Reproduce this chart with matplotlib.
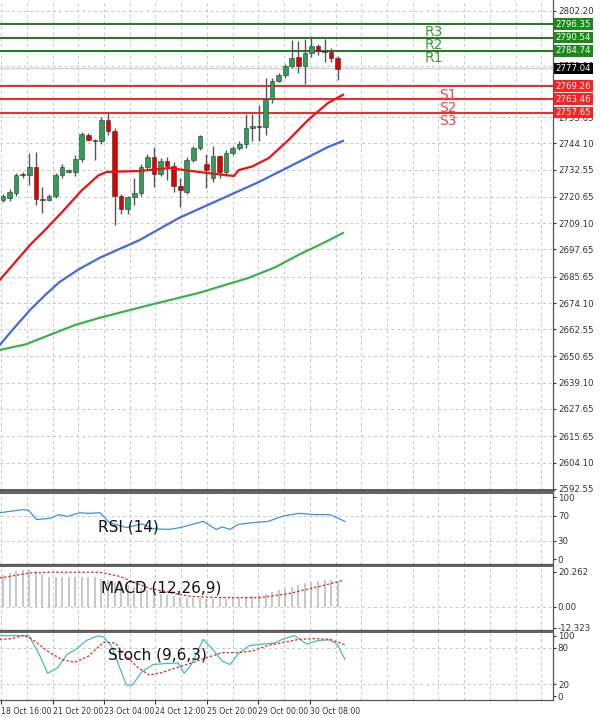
import matplotlib
matplotlib.use("Agg")
import matplotlib.pyplot as plt
import numpy as np

# ---------------- data ----------------
opens  = [2719.3,2720.1,2722.4,2730.5,2730.3,2733.8,2719.5,2719.3,2721.0,2730.3,2731.6,2731.6,2737.3,2747.8,2745.6,2745.2,
          2754.4,2749.5,2721.0,2715.3,2720.6,2722.4,2733.8,2738.2,2730.7,2736.4,2734.2,2725.4,2722.8,2736.9,2742.1,2735.1,
          2728.9,2738.6,2731.6,2739.9,2742.1,2743.9,2750.9,2751.8,2751.3,2763.6,2771.5,2774.1,2778.1,2782.0,2778.1,2783.8,
          2786.8,2784.2,2784.2,2781.6]
closes = [2721.0,2722.8,2730.3,2730.1,2733.8,2719.7,2719.3,2721.0,2730.3,2733.8,2732.4,2737.3,2748.2,2745.6,2745.2,2754.4,
          2749.5,2721.0,2715.3,2720.6,2722.4,2733.8,2738.2,2730.7,2736.4,2734.2,2725.4,2723.7,2736.9,2742.1,2747.4,2732.4,
          2738.6,2731.6,2739.9,2742.1,2743.9,2750.9,2751.8,2751.3,2763.6,2771.5,2774.1,2778.1,2781.6,2778.1,2783.8,2786.8,
          2784.7,2784.0,2781.6,2776.8]
highs  = [2722.0,2724.0,2731.0,2731.5,2740.0,2740.3,2725.0,2722.0,2731.0,2735.0,2733.0,2739.0,2749.0,2748.5,2746.0,2755.5,
          2758.0,2751.0,2722.0,2721.0,2729.0,2735.0,2739.5,2742.5,2737.5,2738.0,2736.0,2728.9,2738.0,2743.0,2748.0,2739.5,
          2743.0,2739.0,2741.0,2743.0,2745.0,2757.0,2757.0,2761.0,2773.0,2773.0,2775.0,2779.0,2789.6,2789.0,2790.0,2791.0,
          2787.5,2790.0,2786.0,2782.6]
lows   = [2718.5,2719.0,2721.0,2729.0,2726.0,2717.0,2713.6,2718.7,2720.0,2729.0,2731.0,2729.6,2736.0,2745.0,2737.0,2744.0,
          2748.0,2708.4,2713.0,2713.0,2717.0,2721.0,2733.0,2725.0,2730.0,2728.0,2723.0,2716.0,2722.0,2736.0,2741.0,2724.7,
          2727.0,2729.0,2730.0,2739.0,2741.0,2742.0,2745.0,2745.0,2748.0,2762.0,2771.0,2773.0,2777.0,2775.0,2770.0,2782.0,
          2783.0,2780.0,2780.0,2772.0]

ma_red_x  = [-0.5,2.0,4.1,6.4,9.0,12.0,14.5,15.8,20.8,25.3,29.8,33.0,35.2,35.9,38.0,40.5,43.5,46.5,49.5,51.8]
ma_red_y  = [2684.2,2692.5,2699.5,2706.1,2714.0,2723.5,2730.0,2731.6,2732.0,2733.3,2731.6,2730.5,2729.8,2732.4,2734.0,2737.7,2745.6,2754.4,2761.8,2765.4]
ma_blue_x = [-0.5,1.5,4.1,6.5,8.6,11.5,14.7,20.8,26.8,32.9,39.0,45.0,49.5,51.8]
ma_blue_y = [2655.7,2662.5,2671.0,2677.8,2683.3,2688.8,2693.9,2701.7,2711.4,2719.3,2727.2,2735.9,2742.5,2745.2]
ma_grn_x  = [-0.5,3.5,7.1,11.0,14.7,22.3,29.8,37.4,41.5,45.0,48.5,51.8]
ma_grn_y  = [2653.5,2656.0,2660.1,2664.5,2667.6,2673.2,2678.5,2685.1,2689.8,2695.2,2700.0,2704.8]

levels_r = [("R3", 2796.35), ("R2", 2790.54), ("R1", 2784.74)]
levels_s = [("S1", 2769.26), ("S2", 2763.46), ("S3", 2757.65)]
last_price = 2777.04
price_ticks = [2802.20, 2778.10, 2755.65, 2744.10, 2732.55, 2720.65, 2709.10, 2697.65, 2685.65,
               2674.10, 2662.55, 2650.65, 2639.10, 2627.65, 2615.65, 2604.10, 2592.55]

rsi_x = [-0.5,3.0,3.9,5.1,7.2,8.5,9.8,11.7,13.0,14.8,16.2,18.8,21.2,22.9,25.3,27.0,30.5,32.5,33.4,34.6,35.8,38.1,40.4,42.8,45.1,47.4,49.8,52.1]
rsi_y = [75,80,79,64,66,72,69,75,74,75,59,51,57,49,48,51,61,48,52,48,56,59,61,70,74,72,72,61]

macd_hist = [18.5,19.5,20.4,21.4,21.0,20.4,19.0,17.1,17.1,17.1,17.1,17.1,17.1,17.1,17.1,16.0,15.5,14.5,13.5,12.5,11.5,
             10.5,9.5,8.5,7.5,6.5,6.0,5.5,5.2,5.0,4.8,4.6,4.6,4.6,4.6,4.8,5.0,5.5,6.0,6.5,7.5,8.5,9.5,10.5,11.5,12.5,13.5,
             14.5,15.0,15.5,15.5,14.5]
macd_sig_x = [-0.5,4.1,7.1,14.7,17.8,22.3,28.4,32.9,39.0,43.5,48.0,51.8]
macd_sig_y = [16.5,19.5,19.9,19.9,17.5,10.5,6.0,5.2,5.2,7.5,11.5,15.1]

stk_x = [-0.5,1.3,3.0,3.9,5.4,6.8,8.3,9.8,11.2,12.7,14.4,15.3,16.5,17.6,18.8,19.7,21.2,22.9,24.7,26.7,27.6,28.7,30.5,
         31.9,33.4,34.6,35.8,37.5,39.3,41.3,42.8,44.4,46.3,48.0,49.8,50.9,52.1]
stk_k = [100,100,100,100,72,38,47,69.5,78,92,99.5,98,83.6,52.5,18.6,18.6,41,52.5,54,55,38,52.5,94,78,58,52.5,69.5,
         83.6,86,87.6,95,100,86,92,93,86,61]
stk_dx = [-0.5,1.3,3.0,4.2,5.4,7.1,8.9,10.9,13.0,15.3,17.1,18.2,20.6,22.3,24.1,26.4,28.7,31.1,33.4,35.8,38.1,40.4,42.8,
          45.1,47.4,49.8,52.1]
stk_d = [94,95,100,96,86,72,61,56,66,89,88,72,47,35,39,47,55,64,72,72,75,84,89,94,95,94,85]

date_labels = ["18 Oct 16:00", "21 Oct 20:00", "23 Oct 04:00", "24 Oct 12:00",
               "25 Oct 20:00", "29 Oct 00:00", "30 Oct 08:00"]

# ---------------- layout ----------------
W, H = 600, 718
fig = plt.figure(figsize=(W/100, H/100), dpi=100)
def ax_px(top, bottom):
    return fig.add_axes([0, 1 - bottom/H, 553/W, (bottom - top)/H])

ax  = ax_px(0, 490)
axr = ax_px(493, 564)
axm = ax_px(566, 630)
axs = ax_px(632, 700)

XL = (-0.46, 83.8)
tick_x = [-0.3 + 7.84*k for k in range(len(date_labels))]
grid_x = np.arange(-0.3 - 3.92, 84, 3.92)
GRID = dict(color="#c8c8c8", ls=(0, (3, 3)), lw=0.7)

for a in (ax, axr, axm, axs):
    a.set_xlim(*XL)
    a.set_facecolor("white")
    for x in grid_x:
        a.axvline(x, zorder=0, **GRID)
    a.yaxis.tick_right()
    a.tick_params(axis="y", labelsize=6.2, length=2, pad=1.5, colors="#333333")
    a.tick_params(axis="x", length=0, labelbottom=False)
    for s in a.spines.values():
        s.set_color("#555555"); s.set_linewidth(0.9)
    a.spines["left"].set_visible(False)
    a.spines["top"].set_linewidth(1.3)

# ---------------- main price panel ----------------
ax.set_ylim(2592.1, 2807.0)
ax.set_yticks(price_ticks)
ax.set_yticklabels([f"{t:.2f}" for t in price_ticks])
for t in price_ticks:
    ax.axhline(t, zorder=0, **GRID)
ax.spines["top"].set_visible(False)
ax.spines["bottom"].set_linewidth(2)

xs = np.arange(len(opens))
for i in xs:
    o, c, h, l = opens[i], closes[i], highs[i], lows[i]
    col = "#2e9e5b" if c >= o else "#e00000"
    ax.vlines(i, l, h, color="#555555", lw=1, zorder=3)
    bh = max(abs(c - o), 0.6)
    ax.bar(i, bh, bottom=min(o, c), width=0.7, color=col, edgecolor="#333333", lw=0.4, zorder=4)

ax.plot(ma_red_x, ma_red_y, color="#ee1111", lw=1.6, zorder=5)
ax.plot(ma_blue_x, ma_blue_y, color="#4169e1", lw=1.6, zorder=5)
ax.plot(ma_grn_x, ma_grn_y, color="#3cb34a", lw=1.6, zorder=5)

ax.axhline(last_price, color="#d0d0d0", lw=1, zorder=1)
ax.text(1.005, last_price, f"{last_price:.2f}", transform=ax.get_yaxis_transform(), fontsize=6.2,
        color="white", va="center", ha="left", zorder=10,
        bbox=dict(boxstyle="square,pad=0.15", fc="black", ec="none"))
for name, v in levels_r:
    ax.axhline(v, color="#1a7a1a", lw=1.4, zorder=2)
    ax.text(1.005, v, f"{v:.2f}", transform=ax.get_yaxis_transform(), fontsize=6.2, color="white", zorder=10,
            va="center", ha="left", bbox=dict(boxstyle="square,pad=0.15", fc="#1a8a1a", ec="none"))
    ax.text(64.3, v - 3.2, name, fontsize=10, color="#3a9a3a", ha="left", va="center")
for name, v in levels_s:
    ax.axhline(v, color="#ff2020", lw=1.4, zorder=2)
    ax.text(1.005, v, f"{v:.2f}", transform=ax.get_yaxis_transform(), fontsize=6.2, color="white", zorder=10,
            va="center", ha="left", bbox=dict(boxstyle="square,pad=0.15", fc="#ff2020", ec="none"))
    ax.text(66.5, v - 3.8, name, fontsize=10, color="#ff4040", ha="left", va="center")

# ---------------- RSI ----------------
axr.set_ylim(-8, 107)
axr.set_yticks([0, 30, 70, 100])
for t in (30, 70):
    axr.axhline(t, zorder=0, **GRID)
axr.plot(rsi_x, rsi_y, color="#3d8ee8", lw=0.9)
axr.text(14.5, 52, "RSI (14)", fontsize=11, ha="left", va="center", color="#111111")

# ---------------- MACD ----------------
axm.set_ylim(-13.5, 23.5)
axm.set_yticks([20.262, 0.0, -12.323])
axm.set_yticklabels(["20.262", "0.00", "-12.323"])
axm.axhline(0, zorder=0, **GRID)
axm.bar(xs, macd_hist, width=0.3, color="#c8c8c8", zorder=2)
axm.plot(macd_sig_x, macd_sig_y, color="#ee2222", lw=0.9, ls=(0, (2, 1.5)), zorder=3)
axm.text(15, 10.5, "MACD (12,26,9)", fontsize=11, ha="left", va="center", color="#111111")

# ---------------- Stochastic ----------------
axs.set_ylim(-6, 106)
axs.set_yticks([0, 20, 80, 100])
for t in (20, 80):
    axs.axhline(t, zorder=0, **GRID)
axs.plot(stk_x, stk_k, color="#40c0b8", lw=0.9, zorder=3)
axs.plot(stk_dx, stk_d, color="#ee2222", lw=0.9, ls=(0, (2, 1.5)), zorder=3)
axs.text(16, 68, "Stoch (9,6,3)", fontsize=11, ha="left", va="center", color="#111111")
axs.set_xticks(tick_x)
axs.set_xticklabels(date_labels)
axs.tick_params(axis="x", labelbottom=True, labelsize=5.6, length=3, pad=2, colors="#333333")
for lbl in axs.get_xticklabels():
    lbl.set_ha("left")

fig.savefig("out.png", dpi=100)
